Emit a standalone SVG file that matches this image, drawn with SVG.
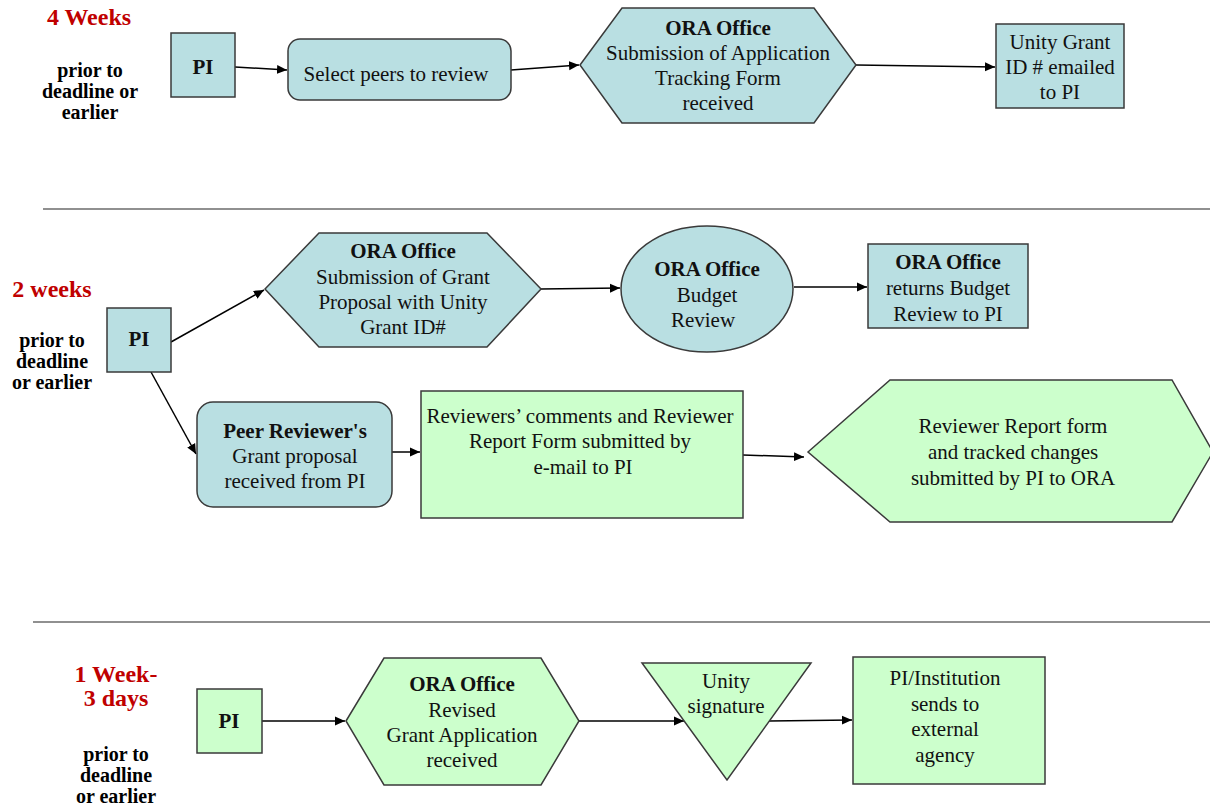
<svg xmlns="http://www.w3.org/2000/svg" width="1210" height="806" viewBox="0 0 1210 806" font-family="'Liberation Serif', 'Times New Roman', serif">
<defs>
<marker id="ah" markerWidth="10" markerHeight="10" refX="10" refY="5" orient="auto" markerUnits="userSpaceOnUse">
<path d="M0,0.5 L10,5 L0,9.5 Z" fill="#000"/>
</marker>
<style>
text{font-family:'Liberation Serif','Times New Roman',serif;text-anchor:middle;dominant-baseline:central;fill:#111}
.t{font-size:21px}
.b{font-size:21px;font-weight:bold}
.lab{font-size:20px;font-weight:bold;fill:#000}
.red{font-size:24px;font-weight:bold;fill:#c00000}
.blue{fill:#b9dfe2;stroke:#3a3a3a;stroke-width:1.5}
.green{fill:#ccffcc;stroke:#3a3a3a;stroke-width:1.5}
.c{fill:none;stroke:#000;stroke-width:1.5;marker-end:url(#ah)}
.div{stroke:#222;stroke-width:1.2}
</style>
</defs>
<rect width="1210" height="806" fill="#fff"/>
<g id="labels">
<text class="red" x="89" y="17">4 Weeks</text>
<text class="lab" x="90" y="70">prior to</text>
<text class="lab" x="90" y="91">deadline or</text>
<text class="lab" x="90" y="112">earlier</text>
<text class="red" x="52" y="289">2 weeks</text>
<text class="lab" x="52" y="340">prior to</text>
<text class="lab" x="52" y="361">deadline</text>
<text class="lab" x="52" y="382">or earlier</text>
<text class="red" x="116" y="674">1 Week-</text>
<text class="red" x="116" y="698">3 days</text>
<text class="lab" x="116" y="754">prior to</text>
<text class="lab" x="116" y="775">deadline</text>
<text class="lab" x="116" y="796">or earlier</text>
</g>
<g id="dividers">
<line class="div" x1="43" y1="209" x2="1210" y2="209"/>
<line class="div" x1="33" y1="622" x2="1210" y2="622"/>
</g>
<g id="connectors">
<line class="c" x1="235" y1="67" x2="287" y2="70"/>
<line class="c" x1="511" y1="70" x2="579" y2="65"/>
<line class="c" x1="856" y1="65" x2="995" y2="67"/>
<line class="c" x1="171" y1="342" x2="264" y2="290"/>
<line class="c" x1="541" y1="289" x2="620" y2="288"/>
<line class="c" x1="794" y1="287" x2="867" y2="287"/>
<line class="c" x1="151" y1="372" x2="196" y2="454"/>
<line class="c" x1="392" y1="452" x2="420" y2="452"/>
<line class="c" x1="743" y1="455" x2="804" y2="457"/>
<line class="c" x1="262" y1="721" x2="345" y2="721"/>
<line class="c" x1="579" y1="721" x2="684" y2="721"/>
<line class="c" x1="769" y1="721" x2="852" y2="720"/>
</g>
<g id="n1-pi">
<rect class="blue" x="171" y="33" width="64" height="64"/>
<text class="b" x="203" y="67">PI</text>
</g>
<g id="n1-select">
<rect class="blue" x="288" y="39" width="223" height="61" rx="12"/>
<text class="t" x="396" y="74">Select peers to review</text>
</g>
<g id="n1-ora">
<polygon class="blue" points="580,65 622,8 814,8 856,65 814,123 622,123"/>
<text class="b" x="718" y="28">ORA Office</text>
<text class="t" x="718" y="53">Submission of Application</text>
<text class="t" x="718" y="78">Tracking Form</text>
<text class="t" x="718" y="103">received</text>
</g>
<g id="n1-unity">
<rect class="blue" x="996" y="24" width="128" height="84"/>
<text class="t" x="1060" y="42">Unity Grant</text>
<text class="t" x="1060" y="67">ID # emailed</text>
<text class="t" x="1060" y="92">to PI</text>
</g>
<g id="n2-pi">
<rect class="blue" x="107" y="308" width="64" height="64"/>
<text class="b" x="139" y="339">PI</text>
</g>
<g id="n2-ora">
<polygon class="blue" points="265,289 319,233 487,233 541,289 487,347 319,347"/>
<text class="b" x="403" y="251">ORA Office</text>
<text class="t" x="403" y="277">Submission of Grant</text>
<text class="t" x="403" y="302">Proposal with Unity</text>
<text class="t" x="403" y="327">Grant ID#</text>
</g>
<g id="n2-budget">
<ellipse class="blue" cx="707" cy="289" rx="86" ry="63"/>
<text class="b" x="707" y="269">ORA Office</text>
<text class="t" x="707" y="295">Budget</text>
<text class="t" x="703" y="320">Review</text>
</g>
<g id="n2-returns">
<rect class="blue" x="868" y="244" width="160" height="84"/>
<text class="b" x="948" y="262">ORA Office</text>
<text class="t" x="948" y="288">returns Budget</text>
<text class="t" x="948" y="314">Review to PI</text>
</g>
<g id="n2-peer">
<rect class="blue" x="197" y="402" width="195" height="105" rx="16"/>
<text class="b" x="295" y="431">Peer Reviewer's</text>
<text class="t" x="295" y="456">Grant proposal</text>
<text class="t" x="295" y="481">received from PI</text>
</g>
<g id="n2-comments">
<rect class="green" x="421" y="391" width="322" height="127"/>
<text class="t" x="580" y="416">Reviewers’ comments and Reviewer</text>
<text class="t" x="580" y="441">Report Form submitted by</text>
<text class="t" x="583" y="467">e-mail to PI</text>
</g>
<g id="n2-report">
<polygon class="green" points="808,452 890,380 1172,380 1213,452 1172,522 890,522"/>
<text class="t" x="1013" y="426">Reviewer Report form</text>
<text class="t" x="1013" y="452">and tracked changes</text>
<text class="t" x="1013" y="478">submitted by PI to ORA</text>
</g>
<g id="n3-pi">
<rect class="green" x="197" y="689" width="65" height="64"/>
<text class="b" x="229" y="721">PI</text>
</g>
<g id="n3-ora">
<polygon class="green" points="346,721 384,658 541,658 579,721 541,785 384,785"/>
<text class="b" x="462" y="684">ORA Office</text>
<text class="t" x="462" y="710">Revised</text>
<text class="t" x="462" y="735">Grant Application</text>
<text class="t" x="462" y="760">received</text>
</g>
<g id="n3-unity">
<polygon class="green" points="642,663 811,663 727,780"/>
<text class="t" x="726" y="681">Unity</text>
<text class="t" x="726" y="706">signature</text>
</g>
<g id="n3-send">
<rect class="green" x="853" y="657" width="192" height="127"/>
<text class="t" x="945" y="678">PI/Institution</text>
<text class="t" x="945" y="704">sends to</text>
<text class="t" x="945" y="729">external</text>
<text class="t" x="945" y="755">agency</text>
</g>
</svg>
